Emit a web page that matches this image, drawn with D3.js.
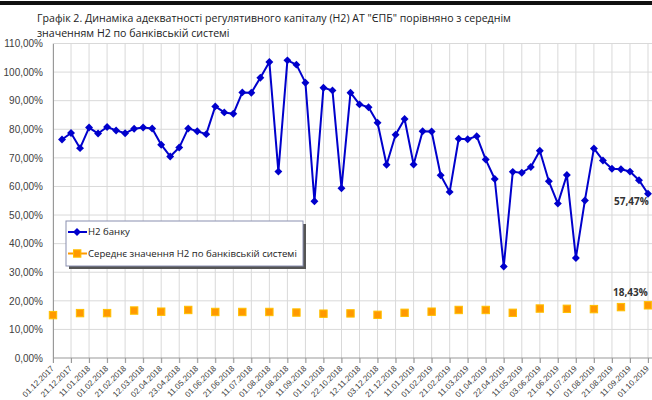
<!DOCTYPE html>
<html>
<head>
<meta charset="utf-8">
<script src="https://cdn.jsdelivr.net/npm/d3@7"></script>
<style>
  body { margin: 0; background: #fff; }
  svg { display: block; font-family: 'Open Sans', sans-serif; }
</style>
</head>
<body>
<svg id="chart"></svg>
<script>
// reporting dates (every ~10 days), labels shown on every second one
const dates = [
  '01.12.2017', '11.12.2017', '21.12.2017', '03.01.2018', '11.01.2018', '22.01.2018',
  '01.02.2018', '12.02.2018', '21.02.2018', '01.03.2018', '12.03.2018', '21.03.2018',
  '02.04.2018', '11.04.2018', '23.04.2018', '02.05.2018', '11.05.2018', '21.05.2018',
  '01.06.2018', '11.06.2018', '21.06.2018', '02.07.2018', '11.07.2018', '23.07.2018',
  '01.08.2018', '13.08.2018', '21.08.2018', '03.09.2018', '11.09.2018', '21.09.2018',
  '01.10.2018', '11.10.2018', '22.10.2018', '01.11.2018', '12.11.2018', '21.11.2018',
  '03.12.2018', '11.12.2018', '21.12.2018', '02.01.2019', '11.01.2019', '21.01.2019',
  '01.02.2019', '11.02.2019', '21.02.2019', '01.03.2019', '11.03.2019', '21.03.2019',
  '01.04.2019', '11.04.2019', '22.04.2019', '02.05.2019', '11.05.2019', '21.05.2019',
  '03.06.2019', '11.06.2019', '21.06.2019', '01.07.2019', '11.07.2019', '22.07.2019',
  '01.08.2019', '12.08.2019', '21.08.2019', '02.09.2019', '11.09.2019', '23.09.2019',
  '01.10.2019',
];

// H2 of the bank, % (null = no value)
const bankH2 = [
  null, 76.4, 78.7, 73.4, 80.6, 78.5, 80.8, 79.6, 78.6, 80.2, 80.6, 80.3,
  74.6, 70.5, 73.6, 80.3, 79.3, 78.3, 88.0, 85.9, 85.4, 92.9, 92.8, 98.0,
  103.5, 65.2, 104.1, 102.6, 96.3, 54.8, 94.5, 93.6, 59.4, 92.8, 88.7, 87.7,
  82.3, 67.6, 78.1, 83.6, 67.7, 79.3, 79.2, 63.9, 58.1, 76.7, 76.5, 77.6,
  69.4, 62.6, 32.0, 65.1, 64.8, 66.8, 72.5, 61.8, 54.0, 64.0, 35.0, 55.1,
  73.3, 69.1, 66.2, 66.0, 65.2, 62.2, 57.47,
];

// monthly average H2 of the banking system, %
const monthDates = dates.filter((d, i) => i % 3 === 0);
const systemH2 = [
  15.0, 15.7, 15.7, 16.6, 16.2, 16.8, 16.1, 16.1, 16.1, 15.9, 15.5, 15.6,
  15.1, 15.8, 16.2, 16.8, 16.8, 15.8, 17.3, 17.2, 17.1, 17.8, 18.43,
];

const yTicks = d3.range(0, 111, 10);

const titleLines = [
  'Графік 2. Динаміка адекватності регулятивного капіталу (Н2) АТ "ЄПБ" порівняно з середнім',
  'значенням Н2 по банківській системі',
];
const legendNames = ['Н2 банку', 'Середнє значення Н2 по банківській системі'];

const W = 652, H = 400;
const svg = d3.select('#chart').attr('width', W).attr('height', H);

const x = d3.scalePoint().domain(dates).range([53, 648]);
const y = d3.scaleLinear().domain([0, 110]).range([358, 43.5]);
const pct = v => d3.format('.2f')(v).replace('.', ',') + '%';

// top dark border
svg.append('rect').attr('x', 0).attr('y', 1).attr('width', W).attr('height', 4).attr('fill', '#111');

// title
svg.append('g').selectAll('text').data(titleLines).join('text')
  .attr('x', 37).attr('y', (d, i) => 22 + i * 15)
  .attr('font-size', 10.6).attr('fill', '#222')
  .text(d => d);

// horizontal gridlines
svg.append('g').selectAll('line').data(yTicks.slice(1)).join('line')
  .attr('x1', 53).attr('x2', W).attr('y1', d => y(d)).attr('y2', d => y(d))
  .attr('stroke', '#d9d9d9');

// vertical gridlines on labelled dates
const labelDates = dates.filter((d, i) => i % 2 === 0);
svg.append('g').selectAll('line').data(labelDates).join('line')
  .attr('x1', d => x(d)).attr('x2', d => x(d)).attr('y1', y(110)).attr('y2', y(0) + 5)
  .attr('stroke', '#d9d9d9');

// y axis
const yAxis = svg.append('g').attr('transform', 'translate(53,0)')
  .call(d3.axisLeft(y).tickValues(yTicks).tickSize(0).tickPadding(10).tickFormat(pct));
yAxis.select('.domain').attr('stroke', '#999');
yAxis.selectAll('text').attr('font-size', 10).attr('fill', '#404040');

// x axis
const xAxis = svg.append('g').attr('transform', `translate(0,${y(0)})`)
  .call(d3.axisBottom(x).tickValues(labelDates).tickSize(5));
xAxis.select('.domain').attr('stroke', '#999').attr('d', `M53,0H${W}`);
xAxis.selectAll('.tick line').attr('stroke', '#999');
xAxis.selectAll('text')
  .attr('font-size', 8.1).attr('fill', '#404040')
  .attr('x', 0).attr('y', 0).attr('dy', '0.35em')
  .attr('text-anchor', 'end')
  .attr('transform', 'translate(-1,9) rotate(-45)');

// bank line
const bank = dates.map((d, i) => ({ d, v: bankH2[i] })).filter(p => p.v != null);
svg.append('path').datum(bank)
  .attr('fill', 'none').attr('stroke', '#0000cc').attr('stroke-width', 2)
  .attr('stroke-linejoin', 'round')
  .attr('d', d3.line().x(p => x(p.d)).y(p => y(p.v)));

const diamond = d3.symbol().type(d3.symbolDiamond2).size(40);
svg.append('g').selectAll('path').data(bank).join('path')
  .attr('transform', p => `translate(${x(p.d)},${y(p.v)})`)
  .attr('d', diamond).attr('fill', '#0000cc');

// system squares
svg.append('g').selectAll('rect').data(monthDates).join('rect')
  .attr('x', (d) => x(d) - 3.7).attr('y', (d, i) => y(systemH2[i]) - 3.7)
  .attr('width', 7.4).attr('height', 7.4)
  .attr('fill', '#ff9900').attr('stroke', '#ffc000').attr('stroke-width', 1);

// end labels
const last = dates.length - 1;
svg.append('text').attr('x', x(dates[last]) - 34).attr('y', y(bankH2[last]) + 11)
  .attr('font-size', 10).attr('font-weight', 'bold').attr('fill', '#333')
  .text(pct(bankH2[last]));
svg.append('text').attr('x', x(monthDates[monthDates.length - 1]) - 35)
  .attr('y', y(systemH2[systemH2.length - 1]) - 9)
  .attr('font-size', 10).attr('font-weight', 'bold').attr('fill', '#333')
  .text(pct(systemH2[systemH2.length - 1]));

// legend
const lg = svg.append('g').attr('transform', 'translate(66,221)');
lg.append('rect').attr('x', 3).attr('y', 3).attr('width', 237).attr('height', 45).attr('fill', '#555');
lg.append('rect').attr('width', 237).attr('height', 45).attr('fill', '#fff').attr('stroke', '#8a8fb0');
const items = lg.selectAll('g').data(legendNames).join('g')
  .attr('transform', (d, i) => `translate(0,${11 + i * 21.5})`);
items.filter((d, i) => i === 0).append('line').attr('x1', 2).attr('x2', 21)
  .attr('stroke', '#0000cc').attr('stroke-width', 2);
items.filter((d, i) => i === 0).append('path').attr('d', diamond).attr('transform', 'translate(11,0)').attr('fill', '#0000cc');
items.filter((d, i) => i === 1).append('line').attr('x1', 2).attr('x2', 21)
  .attr('stroke', '#ff9900').attr('stroke-width', 2);
items.filter((d, i) => i === 1).append('rect').attr('x', 7.5).attr('y', -3.7).attr('width', 7.4).attr('height', 7.4)
  .attr('fill', '#ff9900').attr('stroke', '#ffc000');
items.append('text').attr('x', 22).attr('dy', '0.35em').attr('font-size', 9.6).attr('fill', '#222')
  .text(d => d);
</script>
</body>
</html>
